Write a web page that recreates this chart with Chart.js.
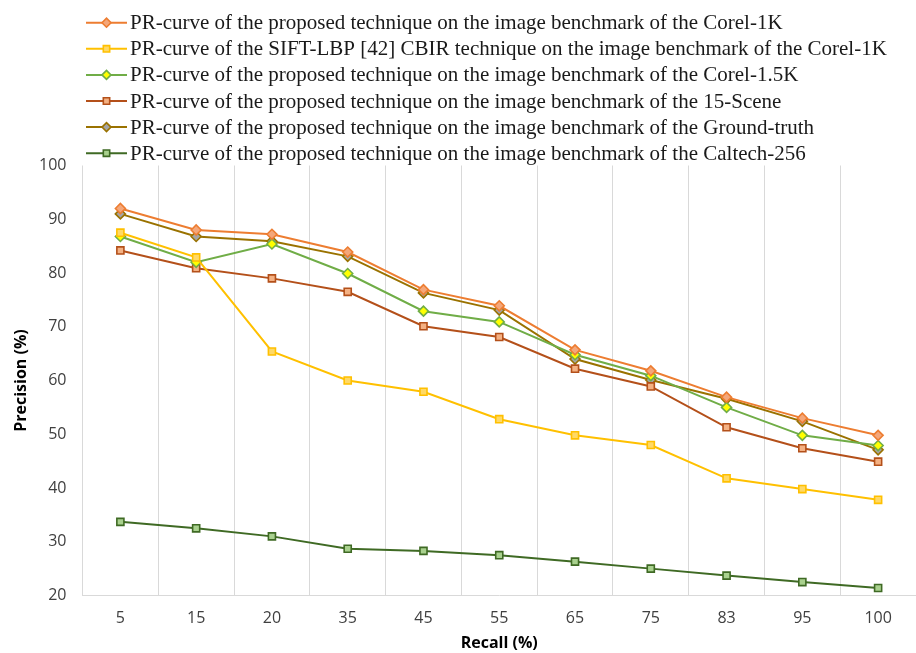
<!DOCTYPE html>
<html>
<head>
<meta charset="utf-8">
<script src="https://cdn.jsdelivr.net/npm/chart.js@4.4.1/dist/chart.umd.min.js"></script>
<style>
  html, body { margin: 0; padding: 0; background: #fff; overflow: hidden; }
  #wrap { width: 916px; height: 653px; position: relative; }
</style>
</head>
<body>
<div id="wrap"><canvas id="prChart"></canvas></div>
<script>
/* recall levels on the x axis */
var recall = ['5', '15', '20', '35', '45', '55', '65', '75', '83', '95', '100'];

/* precision values for each curve */
var corel1k = [92, 88, 87.2, 83.9, 76.9, 73.9, 65.7, 61.8, 56.9, 53, 49.8];
var siftLbp = [87.5, 82.9, 65.4, 60, 57.9, 52.8, 49.8, 48, 41.8, 39.8, 37.8];
var corel15k = [86.8, 82, 85.4, 79.9, 72.9, 70.9, 64.8, 60.9, 55, 49.8, 47.9];
var scene15 = [84.2, 80.9, 79, 76.5, 70.1, 68.1, 62.2, 58.9, 51.3, 47.4, 44.9];
var groundTruth = [91, 86.8, 85.9, 83.1, 76.3, 73.1, 64, 60.1, 56.6, 52.4, 47.1];
var caltech256 = [33.7, 32.5, 31, 28.7, 28.3, 27.5, 26.3, 25, 23.7, 22.5, 21.4];

var yTicks = [20, 30, 40, 50, 60, 70, 80, 90, 100];

var legendNames = [
  'PR-curve of the proposed technique on the image benchmark of the Corel-1K',
  'PR-curve of the SIFT-LBP [42] CBIR technique on the image benchmark of the Corel-1K',
  'PR-curve of the proposed technique on the image benchmark of the Corel-1.5K',
  'PR-curve of the proposed technique on the image benchmark of the 15-Scene',
  'PR-curve of the proposed technique on the image benchmark of the Ground-truth',
  'PR-curve of the proposed technique on the image benchmark of the Caltech-256'
];

function series(label, data, line, fill, shape) {
  return {
    label: label,
    data: data,
    borderColor: line,
    backgroundColor: line,
    borderWidth: 2,
    pointStyle: shape,
    pointRadius: 5,
    pointBorderWidth: 1.6,
    pointBorderColor: line,
    pointBackgroundColor: fill,
    tension: 0
  };
}

/* legend drawn above the plot: line sample, marker, then the label */
var lineLegend = {
  id: 'lineLegend',
  afterDraw: function(chart) {
    var ctx = chart.ctx;
    ctx.save();
    chart.data.datasets.forEach(function(ds, i) {
      var y = 22.7 + i * 26.1;
      ctx.strokeStyle = ds.borderColor;
      ctx.lineWidth = 2;
      ctx.beginPath();
      ctx.moveTo(86, y);
      ctx.lineTo(127, y);
      ctx.stroke();
      ctx.fillStyle = ds.pointBackgroundColor;
      ctx.lineWidth = 1.6;
      Chart.helpers.drawPoint(ctx, {
        pointStyle: ds.pointStyle,
        radius: 4.5,
        rotation: 0,
        borderWidth: 1.6
      }, 106.5, y);
      ctx.fillStyle = '#1a1a1a';
      ctx.font = '21px "Liberation Serif", "Times New Roman", serif';
      ctx.textBaseline = 'middle';
      ctx.textAlign = 'left';
      ctx.fillText(ds.label, 130, y + 1);
    });
    ctx.restore();
  }
};

var ctxPR = document.getElementById('prChart').getContext('2d');
var prChart = new Chart(ctxPR, {
  type: 'line',
  data: {
    labels: recall,
    datasets: [
      series(legendNames[0], corel1k, '#ED7D31', '#F4A77A', 'rectRot'),
      series(legendNames[1], siftLbp, '#FFC000', '#FFD966', 'rect'),
      series(legendNames[2], corel15k, '#70AD47', '#FFFF00', 'rectRot'),
      series(legendNames[3], scene15, '#B4501A', '#F4B183', 'rect'),
      series(legendNames[4], groundTruth, '#9A7200', '#A5A5A5', 'rectRot'),
      series(legendNames[5], caltech256, '#3F6A24', '#A9D18E', 'rect')
    ]
  },
  options: {
    responsive: true,
    maintainAspectRatio: false,
    animation: false,
    layout: {
      autoPadding: false,
      padding: { top: 165.5, left: 0, right: 0, bottom: 0 }
    },
    plugins: {
      legend: { display: false },
      tooltip: { enabled: false }
    },
    scales: {
      x: {
        type: 'category',
        offset: true,
        afterFit: function(scale) {
          scale.height = 57.5;
          scale.paddingLeft = 0;
          scale.paddingRight = 0;
        },
        grid: {
          offset: true,
          color: '#D9D9D9',
          lineWidth: 1,
          drawTicks: false
        },
        border: { display: true, color: '#D9D9D9' },
        ticks: {
          color: '#404040',
          padding: 13,
          font: { family: '"Open Sans", sans-serif', size: 16 }
        },
        title: {
          display: true,
          text: 'Recall (%)',
          color: '#000',
          padding: { top: 0, bottom: 0 },
          font: { family: '"Open Sans", sans-serif', size: 16, weight: 'bold' }
        }
      },
      y: {
        min: 20,
        max: 100,
        afterBuildTicks: function(scale) {
          scale.ticks = yTicks.map(function(v) { return { value: v }; });
        },
        afterFit: function(scale) { scale.width = 82.5; },
        grid: { display: false, drawTicks: false },
        border: { display: false },
        ticks: {
          color: '#404040',
          padding: 16,
          font: { family: '"Open Sans", sans-serif', size: 16 }
        },
        title: {
          display: true,
          text: 'Precision (%)',
          color: '#000',
          padding: { top: 12, bottom: 0 },
          font: { family: '"Open Sans", sans-serif', size: 16, weight: 'bold' }
        }
      }
    }
  },
  plugins: [lineLegend]
});
</script>
</body>
</html>
